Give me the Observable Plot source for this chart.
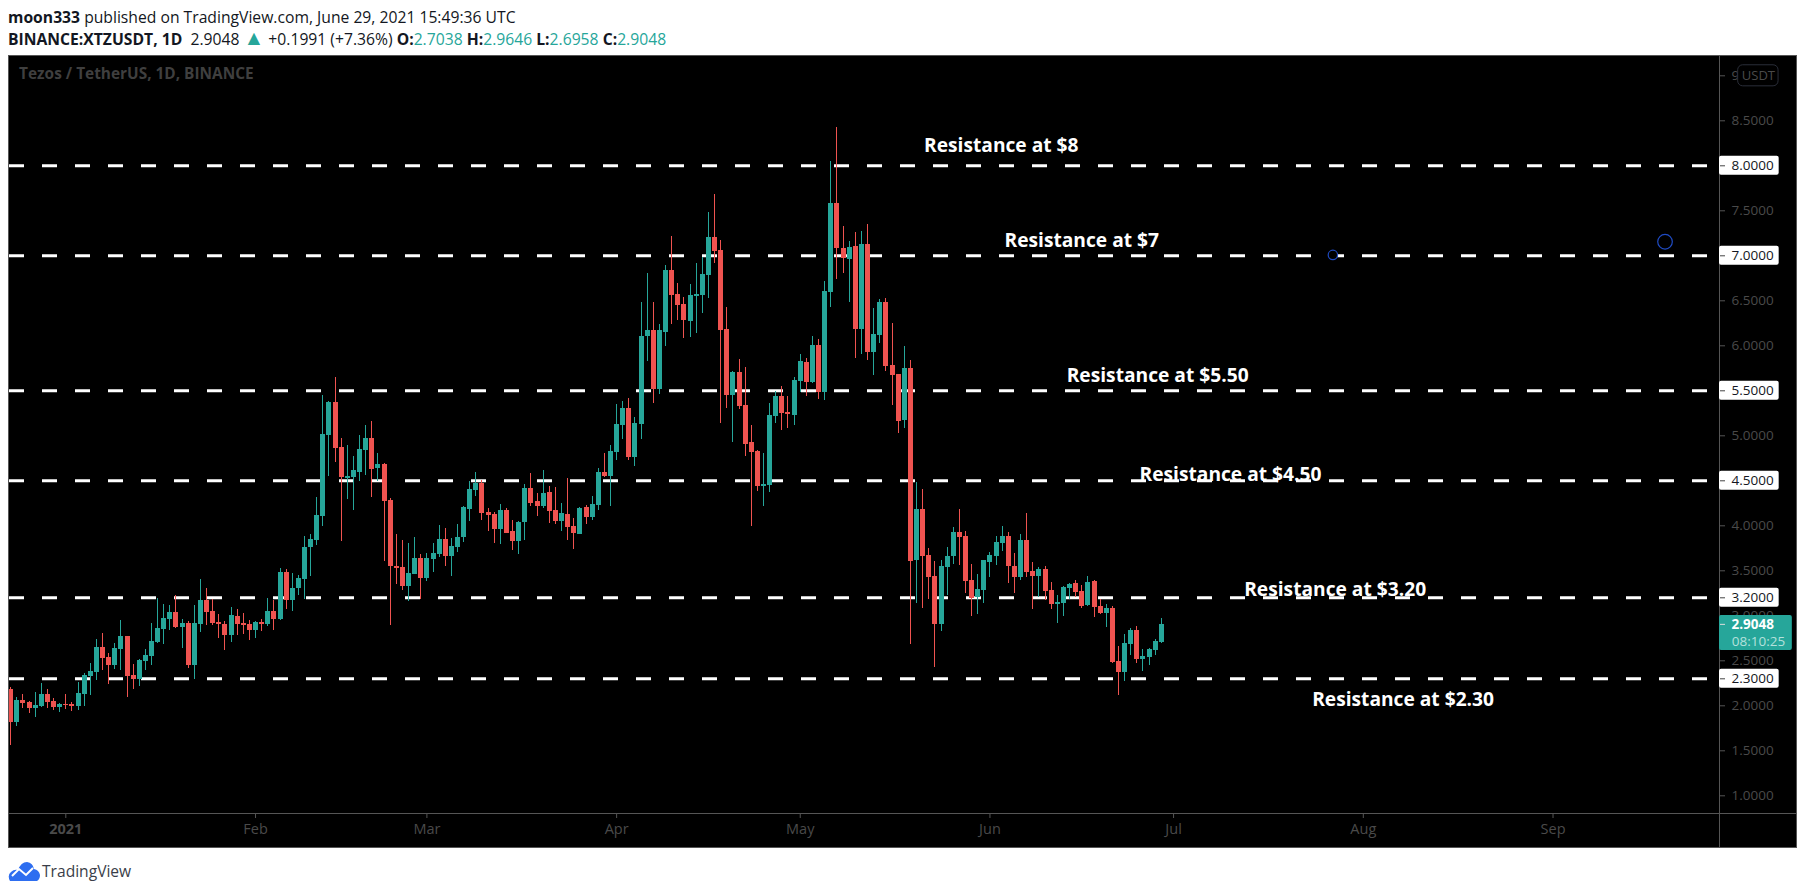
<!DOCTYPE html>
<html><head><meta charset="utf-8">
<script src="https://cdn.jsdelivr.net/npm/d3@7"></script>
<script src="https://cdn.jsdelivr.net/npm/@observablehq/plot@0.6"></script>
<style>
html,body{margin:0;padding:0;background:#fff;}
body{width:1805px;height:895px;overflow:hidden;position:relative;font-family:"Open Sans",sans-serif;color:#131722;}
#head{position:relative;height:55px;}
.ln{position:absolute;left:8px;white-space:nowrap;font-size:15.7px;line-height:20px;}
#l1{top:7px;} #l2{top:29px;}
.ln b{font-weight:700;}
.t{color:#26a69a;}
.up{color:#26a69a;font-size:21px;line-height:0;}
#chart svg{display:block;margin-left:8px;outline:1px solid #555;outline-offset:-1px;}
#foot{position:absolute;left:8px;top:861px;height:21px;}
#foot span{position:absolute;left:34px;top:0;font-size:15.6px;line-height:21px;color:#3a3e49;font-family:"Open Sans",sans-serif;}
</style></head><body>
<div id="head">
<div class="ln" id="l1"><b>moon333</b> published on TradingView.com, June 29, 2021 15:49:36 UTC</div>
<div class="ln" id="l2"><b>BINANCE:XTZUSDT, 1D</b>&nbsp; 2.9048 <span class="up">▲</span> +0.1991 (+7.36%) <b>O:</b><span class="t">2.7038</span> <b>H:</b><span class="t">2.9646</span> <b>L:</b><span class="t">2.6958</span> <b>C:</b><span class="t">2.9048</span></div>
</div>
<div id="chart"></div>
<div id="foot">
<svg width="32" height="20" viewBox="0 0 32 20" style="position:absolute;left:0;top:0">
<path d="M2 20 Q-1 14 3 11 Q6 8 10 9 Q13 1 19 1 Q25 2 26 8 Q31 9 32 14 Q32 18 29 20 Z" fill="#2e6ef0"/>
<path d="M4 15 L11 8 L18 14 L25 7" fill="none" stroke="#fff" stroke-width="2"/>
</svg>
<span>TradingView</span>
</div>
<script>
const DAY = 86400000;
const jan1 = Date.UTC(2021, 0, 1);
const firstOffset = -9;
const open = [
2.181,1.818,2.059,2.037,1.970,1.992,2.125,2.048,1.981,2.014,
2.014,1.992,2.125,2.325,2.370,2.648,2.537,2.448,2.625,2.770,
2.337,2.292,2.492,2.548,2.703,2.848,2.959,3.037,2.870,2.914,
2.448,2.903,3.170,3.048,2.925,2.903,2.781,2.992,2.914,2.903,
2.837,2.925,2.903,3.048,2.959,3.481,3.170,3.303,3.403,3.759,
3.837,4.104,5.004,5.370,4.870,4.526,4.537,4.593,4.837,4.970,
4.637,4.681,4.281,3.548,3.537,3.326,3.459,3.637,3.415,3.626,
3.681,3.848,3.659,3.759,3.870,4.181,4.393,4.470,4.148,4.126,
3.959,4.170,3.937,3.826,4.037,4.415,4.270,4.215,4.370,4.170,
4.048,4.126,3.993,3.904,4.204,4.093,4.226,4.593,4.548,4.815,
5.115,5.304,4.759,5.126,6.104,6.170,5.515,6.148,6.837,6.570,
6.459,6.270,6.548,6.559,6.781,7.204,7.059,6.181,5.448,5.704,
5.337,4.926,4.826,4.437,4.448,5.215,5.437,5.259,5.226,5.604,
5.815,5.592,6.004,5.481,6.592,7.581,7.081,6.959,7.104,6.181,
7.126,5.926,6.115,6.481,5.781,5.681,5.170,5.748,3.614,4.181,
3.670,3.436,2.903,3.536,3.659,3.925,3.881,3.392,3.203,3.281,
3.592,3.659,3.803,3.881,3.548,3.425,3.836,3.492,3.436,3.514,
3.281,3.125,3.136,3.303,3.359,3.270,3.114,3.381,3.103,3.025,
3.081,2.492,2.370,2.681,2.836,2.514,2.536,2.614,2.7038];
const close = [
1.818,2.059,2.025,1.970,2.003,2.125,2.037,1.981,2.014,2.003,
1.992,2.137,2.337,2.381,2.648,2.525,2.448,2.637,2.770,2.325,
2.292,2.503,2.559,2.714,2.859,2.970,3.037,2.870,2.914,2.448,
2.914,3.170,3.037,2.914,2.903,2.781,3.003,2.903,2.892,2.837,
2.925,2.903,3.048,2.959,3.481,3.170,3.303,3.414,3.759,3.848,
4.115,5.015,5.370,4.859,4.537,4.548,4.615,4.848,4.970,4.626,
4.681,4.270,3.548,3.526,3.326,3.470,3.637,3.415,3.637,3.693,
3.848,3.659,3.770,3.870,4.204,4.404,4.470,4.137,4.115,3.959,
4.170,3.915,3.826,4.037,4.415,4.248,4.215,4.359,4.159,4.048,
4.137,3.981,3.915,4.193,4.093,4.237,4.593,4.548,4.826,5.126,
5.304,4.759,5.137,6.104,6.170,5.515,6.170,6.837,6.559,6.448,
6.281,6.559,6.570,6.792,7.204,7.048,6.170,5.448,5.704,5.326,
4.904,4.814,4.437,4.459,5.226,5.437,5.248,5.237,5.615,5.826,
5.592,6.004,5.481,6.604,7.581,7.081,6.970,7.092,6.181,7.126,
5.926,6.126,6.481,5.770,5.670,5.159,5.748,3.603,4.181,3.659,
3.425,2.903,3.548,3.659,3.925,3.870,3.381,3.192,3.292,3.614,
3.670,3.814,3.881,3.548,3.425,3.836,3.481,3.436,3.514,3.270,
3.125,3.148,3.314,3.348,3.259,3.103,3.370,3.092,3.025,3.081,
2.481,2.370,2.692,2.836,2.514,2.548,2.625,2.714,2.9048];
const high = [
2.200,2.096,2.125,2.048,2.148,2.248,2.181,2.077,2.025,2.125,
2.037,2.259,2.359,2.470,2.737,2.803,2.581,2.692,2.948,2.770,
2.459,2.514,2.625,2.914,3.192,3.125,3.114,3.225,2.959,2.937,
3.114,3.403,3.303,3.181,3.014,2.937,3.092,3.070,3.025,2.948,
2.937,2.959,3.192,3.170,3.525,3.514,3.470,3.448,3.881,3.903,
4.315,5.448,5.381,5.648,4.970,4.893,4.770,5.004,5.115,5.159,
4.804,4.693,4.304,3.904,3.837,3.804,3.870,3.681,3.693,3.804,
4.004,3.970,3.859,4.015,4.215,4.493,4.593,4.504,4.193,4.148,
4.237,4.193,4.059,4.048,4.459,4.581,4.359,4.615,4.437,4.426,
4.248,4.526,4.081,4.204,4.226,4.326,4.637,4.804,4.893,5.348,
5.381,5.415,5.204,6.481,6.804,6.481,6.237,6.892,7.215,6.692,
6.537,6.681,6.915,6.981,7.481,7.681,7.170,6.426,5.715,5.848,
5.759,5.114,4.837,4.803,5.359,5.492,5.548,5.437,5.648,5.904,
5.859,6.104,6.070,6.715,8.048,8.426,7.326,7.159,7.259,7.270,
7.348,6.415,6.515,6.526,6.248,5.681,5.992,5.837,4.481,4.403,
3.748,3.603,3.614,3.759,3.981,4.181,3.936,3.570,3.459,3.614,
3.703,3.881,3.992,3.925,3.692,3.903,4.136,3.592,3.536,3.548,
3.370,3.225,3.325,3.359,3.392,3.336,3.436,3.392,3.181,3.125,
3.103,2.659,2.792,2.859,2.881,2.625,2.636,2.736,2.9646];
const low = [
1.559,1.770,1.970,1.914,1.870,1.981,1.970,1.951,1.925,1.959,
1.937,1.948,1.992,2.114,2.281,2.392,2.237,2.403,2.392,2.092,
2.181,2.214,2.392,2.448,2.692,2.681,2.837,2.859,2.637,2.414,
2.292,2.814,2.892,2.892,2.748,2.614,2.703,2.781,2.792,2.725,
2.748,2.825,2.881,2.837,2.948,3.070,3.048,3.225,3.181,3.437,
3.781,3.993,4.548,4.704,3.826,4.293,4.170,4.493,4.559,4.315,
4.493,3.604,2.893,3.348,3.281,3.159,3.459,3.181,3.381,3.481,
3.648,3.548,3.437,3.704,3.815,4.048,4.326,4.059,3.937,3.804,
3.793,3.915,3.726,3.681,3.837,4.215,4.104,4.193,4.026,4.015,
3.937,3.837,3.737,3.904,4.015,4.059,4.170,4.537,4.215,4.726,
4.959,4.726,4.659,4.959,5.826,5.359,5.459,5.992,6.237,6.281,
6.081,6.092,6.137,6.359,6.526,6.915,5.137,5.304,4.926,5.292,
4.770,3.992,4.381,4.214,4.370,5.137,5.059,5.081,5.115,5.481,
5.437,5.581,5.404,5.392,6.426,6.737,6.804,6.481,5.859,5.904,
5.837,5.670,6.026,5.715,5.337,5.026,5.081,2.681,3.136,3.081,
3.181,2.425,2.825,3.225,3.570,3.559,3.248,2.992,3.014,3.136,
3.425,3.559,3.714,3.359,3.248,3.392,3.425,3.070,3.203,3.170,
3.070,2.914,2.992,3.181,3.203,3.081,3.103,2.981,3.014,2.870,
2.470,2.114,2.270,2.559,2.470,2.381,2.448,2.559,2.6958];

const levels = [8, 7, 5.5, 4.5, 3.2, 2.3];
const labelTexts = ["Resistance at $8","Resistance at $7","Resistance at $5.50","Resistance at $4.50","Resistance at $3.20","Resistance at $2.30"];
const labelDays = [152.85, 166, 178.4, 190.3, 207.4, 218.5];
const labelPrices = [8.226, 7.17, 5.67, 4.57, 3.29, 2.07];
const priceTicks = [1,1.5,2,2.5,3,3.5,4,4.5,5,5.5,6,6.5,7,7.5,8,8.5,9];
const yearTicks = ["2021-01-01"];
const monthTicks = ["2021-02-01","2021-03-01","2021-04-01","2021-05-01","2021-06-01","2021-07-01","2021-08-01","2021-09-01"];
const monthNames = ["Feb","Mar","Apr","May","Jun","Jul","Aug","Sep"];
const circleDays = [207.03, 261.3];
const circlePrices = [7.01, 7.156];
const circleRadii = [4.7, 7.3];
const lastPrice = 2.9048;
const countdown = "08:10:25";

const day = n => new Date(jan1 + n * DAY);
const GREEN = "#26a69a", RED = "#ef5350", AXIS = "#555555", MUTED = "#4a4a4a";
const xStart = -9.363, xEnd = 270.2, yTop = 9.2256, yBottom = 0.8033;
const candles = open.map((o, i) => ({date: day(firstOffset + i), open: o, close: close[i], high: high[i], low: low[i], color: close[i] >= o ? GREEN : RED}));
const labels = labelTexts.map((text, i) => ({text, date: day(labelDays[i]), price: labelPrices[i]}));
const circles = circleDays.map((d, i) => ({date: day(d), price: circlePrices[i], r: circleRadii[i]}));
const fmt = d => d.toFixed(4);
const tickFont = '"Open Sans",sans-serif';

const plot = Plot.plot({
  width: 1789, height: 793,
  marginLeft: 0, marginRight: 78, marginTop: 0, marginBottom: 35,
  style: {background: "#000", fontFamily: tickFont, fontSize: "13px"},
  x: {type: "utc", domain: [day(xStart), day(xEnd)], label: null},
  y: {type: "linear", domain: [yBottom, yTop], label: null},
  r: {type: "identity"},
  color: {type: "identity"},
  marks: [
    Plot.ruleY(levels, {x1: () => day(-9.2), x2: () => day(268.25), stroke: "#fff", strokeWidth: 3, strokeDasharray: "15,18"}),
    Plot.ruleX(candles, {x: "date", y1: "low", y2: "high", stroke: "color", strokeWidth: 1, shapeRendering: "crispEdges"}),
    Plot.ruleX(candles, {x: "date", y1: "open", y2: "close", stroke: "color", strokeWidth: 5, shapeRendering: "crispEdges"}),
    Plot.dot(circles, {x: "date", y: "price", r: "r", fill: "#000", stroke: "#1f4bc4", strokeWidth: 1.2}),
    Plot.text(labels, {x: "date", y: "price", text: "text", fill: "#fff", fontWeight: "bold", fontSize: 19.2, fontFamily: tickFont, textAnchor: "middle", lineAnchor: "middle"}),
    Plot.text(["Tezos / TetherUS, 1D, BINANCE"], {frameAnchor: "top-left", dx: 10.6, dy: 13, fill: "#3f3f3f", fontWeight: "bold", fontSize: 15.4, lineAnchor: "top"}),
    Plot.ruleX([day(xEnd)], {y1: yBottom - 0.389, y2: yTop, stroke: AXIS}),
    Plot.ruleY([yBottom], {x1: () => day(xStart), x2: () => day(xEnd + 12.75), stroke: AXIS}),
    Plot.axisX(yearTicks.map(d => new Date(d)), {anchor: "bottom", tickSize: 5, tickPadding: 5, stroke: AXIS, color: MUTED, fontSize: 14.5, fontWeight: "bold", tickFormat: () => "2021", label: null}),
    Plot.axisX(monthTicks.map(d => new Date(d)), {anchor: "bottom", tickSize: 5, tickPadding: 5, stroke: AXIS, color: MUTED, fontSize: 14.5, tickFormat: (d, i) => monthNames[i], label: null}),
    Plot.axisY(priceTicks, {anchor: "right", tickSize: 5, tickPadding: 7, stroke: AXIS, color: MUTED, fontSize: 13.5, tickFormat: fmt, label: null}),
    Plot.rect(levels, {x1: () => day(xEnd), x2: () => day(xEnd + 9.75), y1: d => d - 0.105, y2: d => d + 0.105, fill: "#fff", rx: 2}),
    Plot.axisY(levels, {anchor: "right", tickSize: 5, tickPadding: 7, stroke: "#444", color: "#131722", fontSize: 13.5, tickFormat: fmt, label: null}),
    Plot.rect([lastPrice], {x1: () => day(xEnd), x2: () => day(xEnd + 11.9), y1: () => 2.614, y2: () => 3.003, fill: GREEN, rx: 2}),
    Plot.axisY([lastPrice], {anchor: "right", tickSize: 5, tickPadding: 7, stroke: "#ddd", color: "#fff", fontSize: 13.5, fontWeight: "bold", tickFormat: fmt, label: null}),
    Plot.text([countdown], {x: () => day(xEnd + 2), y: () => 2.714, text: d => d, textAnchor: "start", fill: "#b4e1dc", fontSize: 13.5}),
    Plot.rect([9], {x1: () => day(xEnd + 3.05), x2: () => day(xEnd + 9.65), y1: d => d - 0.117, y2: d => d + 0.117, fill: "#000", stroke: "#2a2e39", rx: 5}),
    Plot.text(["USDT"], {x: () => day(xEnd + 6.35), y: () => 9, text: d => d, fill: MUTED, fontSize: 13})
  ]
});
document.getElementById("chart").appendChild(plot);
</script>
</body></html>
